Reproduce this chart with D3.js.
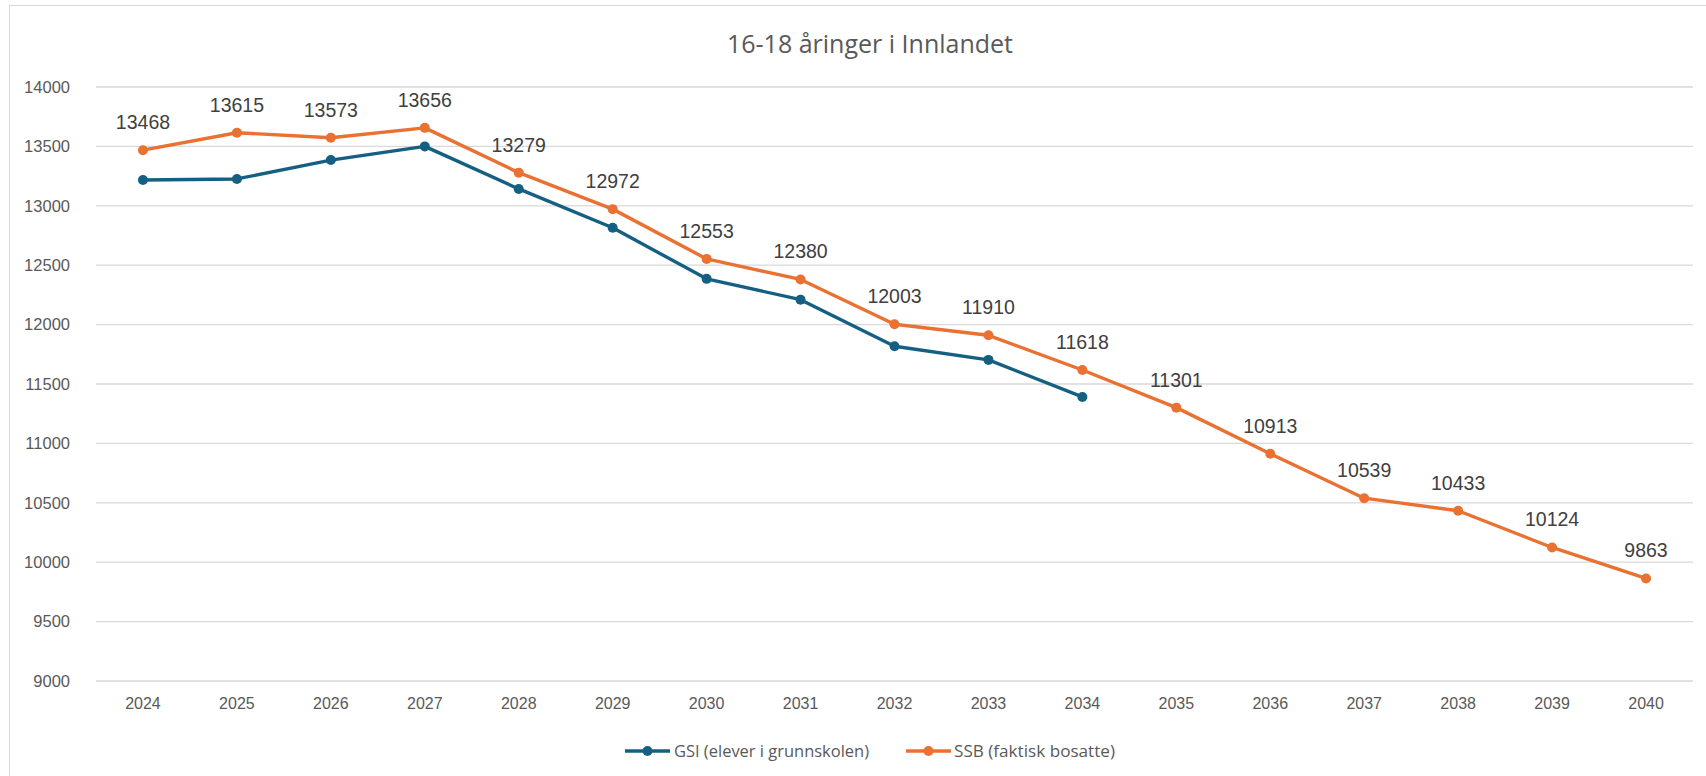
<!DOCTYPE html>
<html>
<head>
<meta charset="utf-8">
<script src="https://cdn.jsdelivr.net/npm/d3@7"></script>
<style>
  html, body { margin: 0; padding: 0; background: #fff; }
  svg { display: block; }
</style>
</head>
<body>
<svg id="chart" width="1706" height="776"></svg>
<script>
const years = ["2024","2025","2026","2027","2028","2029","2030","2031","2032","2033","2034","2035","2036","2037","2038","2039","2040"];
const gsiValues = [13217, 13226, 13385, 13500, 13142, 12815, 12385, 12210, 11818, 11703, 11391];
const ssbValues = [13468, 13615, 13573, 13656, 13279, 12972, 12553, 12380, 12003, 11910, 11618, 11301, 10913, 10539, 10433, 10124, 9863];
const yTicks = [9000, 9500, 10000, 10500, 11000, 11500, 12000, 12500, 13000, 13500, 14000];
const seriesNames = ["GSI (elever i grunnskolen)", "SSB (faktisk bosatte)"];
const titleText = "16-18 åringer i Innlandet";

const W = 1706, H = 776;
const margin = { left: 96, right: 13, top: 87, bottom: 95 };
const colors = ["#156082", "#E97132"];
const font = "'Liberation Sans', Arial, sans-serif";
const uiFont = "'Open Sans', 'Noto Sans', sans-serif";

const svg = d3.select("#chart");

// border
svg.append("rect").attr("x", 9.5).attr("y", 5.5).attr("width", W + 20).attr("height", H + 20)
  .attr("fill", "none").attr("stroke", "#d9d9d9").attr("stroke-width", 1);

const x = d3.scaleBand().domain(years).range([margin.left, W - margin.right]);
const y = d3.scaleLinear().domain([9000, 14000]).range([H - margin.bottom, margin.top]);
const cx = d => x(d) + x.bandwidth() / 2;

// gridlines
svg.append("g").selectAll("line").data(yTicks).join("line")
  .attr("x1", margin.left).attr("x2", W - margin.right)
  .attr("y1", d => y(d)).attr("y2", d => y(d))
  .attr("stroke", "#d9d9d9").attr("stroke-width", 1.3);

// y axis
const yAxis = svg.append("g").attr("transform", `translate(${margin.left - 23},0)`)
  .call(d3.axisLeft(y).tickValues(yTicks).tickSize(0).tickFormat(d3.format("d")));
yAxis.select(".domain").remove();
yAxis.selectAll("text").attr("font-family", font).attr("font-size", 16.5).attr("fill", "#595959").attr("dx", 0);

// x axis
const xAxis = svg.append("g").attr("transform", `translate(0,${H - margin.bottom + 14})`)
  .call(d3.axisBottom(x).tickSize(0));
xAxis.select(".domain").remove();
xAxis.selectAll("text").attr("font-family", font).attr("font-size", 16).attr("fill", "#595959").attr("dy", "0.71em");

// title
svg.append("text").attr("x", 870).attr("y", 43).attr("text-anchor", "middle")
  .attr("dominant-baseline", "central")
  .attr("font-family", uiFont).attr("font-size", 25).attr("fill", "#595959")
  .text(titleText);

const line = d3.line().x(d => cx(d.year)).y(d => y(d.value));
const series = [
  gsiValues.map((v, i) => ({ year: years[i], value: v })),
  ssbValues.map((v, i) => ({ year: years[i], value: v }))
];

series.forEach((s, k) => {
  svg.append("path").datum(s).attr("d", line).attr("fill", "none")
    .attr("stroke", colors[k]).attr("stroke-width", 3.4).attr("stroke-linejoin", "round");
  svg.append("g").selectAll("circle").data(s).join("circle")
    .attr("cx", d => cx(d.year)).attr("cy", d => y(d.value)).attr("r", 5)
    .attr("fill", colors[k]);
});

// data labels for SSB
svg.append("g").selectAll("text").data(series[1]).join("text")
  .attr("x", d => cx(d.year)).attr("y", d => y(d.value) - 28)
  .attr("text-anchor", "middle").attr("dominant-baseline", "central")
  .attr("font-family", font).attr("font-size", 19.5).attr("fill", "#404040")
  .text(d => d.value);

// legend
const legendY = 751;
const legendItems = [
  { x: 625, tx: 674, w: 195, name: seriesNames[0], c: colors[0] },
  { x: 906, tx: 954, w: 161, name: seriesNames[1], c: colors[1] }
];
const lg = svg.append("g");
legendItems.forEach(it => {
  lg.append("line").attr("x1", it.x).attr("x2", it.x + 45).attr("y1", legendY).attr("y2", legendY)
    .attr("stroke", it.c).attr("stroke-width", 3.4);
  lg.append("circle").attr("cx", it.x + 22.5).attr("cy", legendY).attr("r", 5).attr("fill", it.c);
  lg.append("text").attr("x", it.tx).attr("y", legendY).attr("dominant-baseline", "central")
    .attr("font-family", uiFont).attr("font-size", 15.5).attr("fill", "#595959")
    .attr("textLength", it.w).attr("lengthAdjust", "spacingAndGlyphs")
    .text(it.name);
});
</script>
</body>
</html>
